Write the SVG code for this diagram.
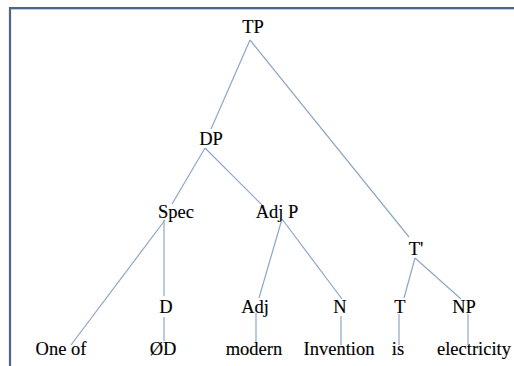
<svg xmlns="http://www.w3.org/2000/svg" width="514" height="366" viewBox="0 0 514 366">
<style>
text{font-family:"Liberation Serif","Times New Roman",serif;font-size:18.5px;fill:#000;stroke:#000;stroke-width:0.15;text-anchor:middle}
.e{stroke:#8ea6c6;stroke-width:1.2;fill:none}
</style>
<rect width="514" height="366" fill="#ffffff"/>
<g id="frame">
<line x1="9" y1="8" x2="514" y2="8" stroke="#4d6588" stroke-width="2.2"/>
<line x1="9" y1="9.5" x2="514" y2="9.5" stroke="#b9cce4" stroke-width="1"/>
<line x1="10" y1="7" x2="10" y2="366" stroke="#4d6588" stroke-width="2.2"/>
</g>
<g id="connectors">
<line class="e" x1="250" y1="40" x2="211" y2="129"/>
<line class="e" x1="250" y1="40" x2="409" y2="237"/>
<line class="e" x1="205" y1="148" x2="172" y2="204"/>
<line class="e" x1="205" y1="148" x2="264" y2="207"/>
<line class="e" x1="165" y1="220" x2="71" y2="345"/>
<line class="e" x1="164" y1="220" x2="164" y2="296"/>
<line class="e" x1="164" y1="317" x2="164" y2="341"/>
<line class="e" x1="282" y1="219" x2="259" y2="298"/>
<line class="e" x1="282" y1="219" x2="342" y2="299"/>
<line class="e" x1="256" y1="313" x2="256" y2="343"/>
<line class="e" x1="341" y1="316" x2="341" y2="345"/>
<line class="e" x1="415" y1="258" x2="404" y2="298"/>
<line class="e" x1="415" y1="258" x2="461" y2="299"/>
<line class="e" x1="399" y1="314" x2="399" y2="345"/>
<line class="e" x1="468" y1="314" x2="468" y2="345"/>
</g>
<g id="TP"><text x="253" y="33">TP</text></g>
<g id="DP"><text x="211" y="145">DP</text></g>
<g id="Spec"><text x="176" y="218">Spec</text></g>
<g id="AdjP"><text x="277" y="218">Adj P</text></g>
<g id="Tbar"><text x="416" y="255">T'</text></g>
<g id="D"><text x="166" y="313">D</text></g>
<g id="Adj"><text x="255" y="313">Adj</text></g>
<g id="N"><text x="340" y="313">N</text></g>
<g id="T"><text x="400" y="313">T</text></g>
<g id="NP"><text x="464" y="313">NP</text></g>
<g id="w1"><text x="61" y="355">One of</text></g>
<g id="w2"><text x="163" y="355">ØD</text></g>
<g id="w3"><text x="254" y="355">modern</text></g>
<g id="w4"><text x="339" y="355">Invention</text></g>
<g id="w5"><text x="398" y="355">is</text></g>
<g id="w6"><text x="474" y="355">electricity</text></g>
</svg>
